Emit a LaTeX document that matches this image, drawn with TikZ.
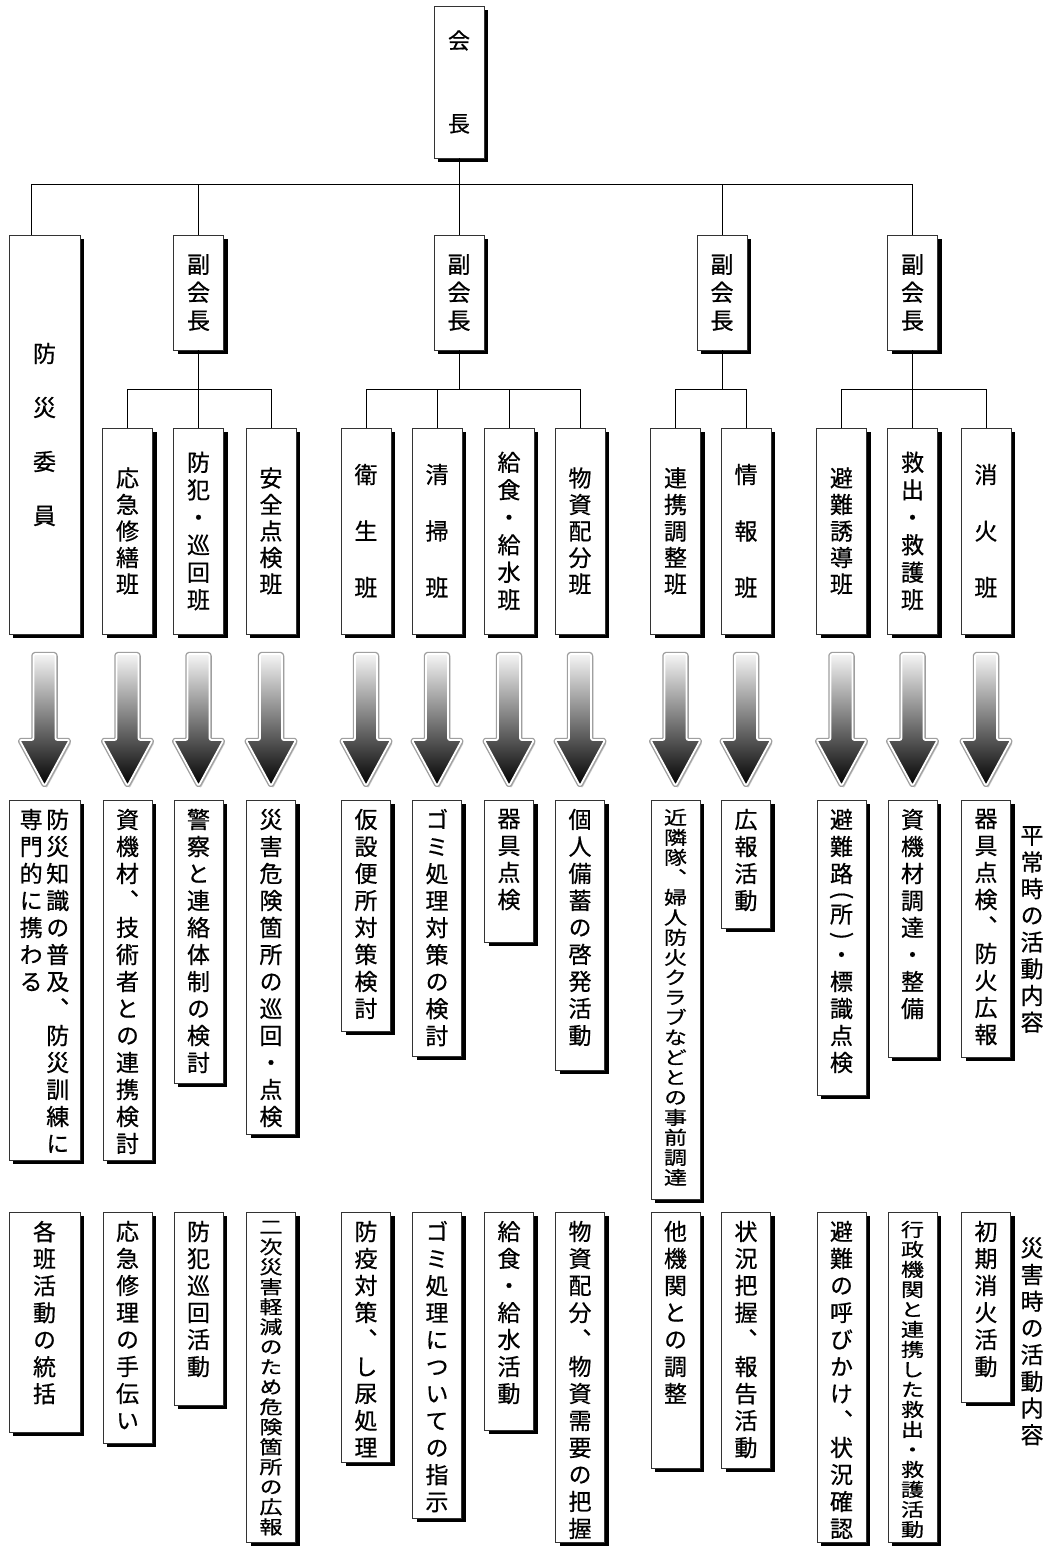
\documentclass[tikz,border=0pt]{standalone}
\usepackage{fontspec}
\newfontfamily\jp{Noto Sans CJK JP}[RawFeature=+vert,FakeBold=0.6]
\newfontfamily\jpflat{Noto Sans CJK JP}[RawFeature=+vert,FakeStretch=1.25,FakeBold=0.6]
\usetikzlibrary{shadows}

% one character per line (vertical writing)
\ExplSyntaxOn
\NewDocumentCommand{\tate}{m}
 {
  \seq_clear:N \l_tmpa_seq
  \tl_map_inline:nn {#1} { \seq_put_right:Nn \l_tmpa_seq {##1} }
  \seq_use:Nn \l_tmpa_seq { \\ }
 }
\ExplSyntaxOff
% top aligned text in a box of height #2
\newcommand{\katsu}[3][40pt]{\parbox[c][\dimexpr#2pt-17pt\relax][t]{#1}{\centering#3}}

\tikzset{
  pics/bigarrow/.style={code={
    \fill[gray!40, shift={(2,2.5)}, rounded corners=2pt] (-11,88) -- (-11,2) -- (11,2) -- (11,88) -- (25,88) -- (0,134) -- (-25,88) -- cycle;
    \draw[gray!75, fill=gray!75, line width=4.5pt, line join=round, rounded corners=2pt] (-11,88) -- (-11,2) -- (11,2) -- (11,88) -- (25,88) -- (0,134) -- (-25,88) -- cycle;
    \draw[white, line width=1.8pt, line join=round, rounded corners=2pt, top color=gray!8, middle color=black!52, bottom color=black] (-11,88) -- (-11,2) -- (11,2) -- (11,88) -- (25,88) -- (0,134) -- (-25,88) -- cycle;
  }}
}

\begin{document}
\begin{tikzpicture}[x=1pt, y=-1pt,
  box/.style={draw=black!80, line width=0.8pt, fill=white, inner sep=0pt,
    minimum width=50pt, align=center,
    drop shadow={shadow xshift=4pt, shadow yshift=-4pt, opacity=1, fill=black}},
  yaku/.style={box, minimum height=115pt, font=\jp\fontsize{23}{28}\selectfont},
  han/.style={box, minimum height=206pt},
  sp3/.style={font=\jp\fontsize{23}{56.5}\selectfont},
  sp5/.style={font=\jp\fontsize{23}{26.5}\selectfont},
  sp6/.style={font=\jp\fontsize{23}{27.5}\selectfont},
  katsu/.style={box, minimum width=49pt, inner ysep=8.5pt, anchor=north,
    font=\jp\fontsize{23}{27}\selectfont},
  komoji/.style={font=\jpflat\fontsize{18.5}{20}\selectfont},
  midashi/.style={inner sep=0pt, anchor=north, align=center,
    font=\jp\fontsize{23}{26.7}\selectfont},
  sen/.style={line width=0.8pt}
]
\path[use as bounding box, fill=white] (0,0) rectangle (1050,1546);

\coordinate (bus) at (0,184);
\coordinate (sub) at (0,389);
\coordinate (ya) at (0,652);
\coordinate (row1) at (0,800);
\coordinate (row2) at (0,1212);

% -- head
\node[box, minimum height=152pt, font=\jp\fontsize{22}{83}\selectfont] (kaicho) at (459,82) {\tate{会長}};

% -- second level
\node[box, minimum width=71pt, minimum height=399pt, font=\jp\fontsize{23}{54}\selectfont] (bosai) at (44.5,434.5) {\tate{防災委員}};
\node[yaku] (fuku1) at (198.5,292.5) {\tate{副会長}};
\node[yaku] (fuku2) at (459,292.5) {\tate{副会長}};
\node[yaku] (fuku3) at (722,292.5) {\tate{副会長}};
\node[yaku] (fuku4) at (912.5,292.5) {\tate{副会長}};

% -- teams
\node[han, sp5] (oukyu) at (127.5,531) {\tate{応急修繕班}};
\node[han, sp6] (bohan) at (198.5,531) {\tate{防犯・巡回班}};
\node[han, sp5] (anzen) at (271,531) {\tate{安全点検班}};
\node[han, sp3] (eisei) at (366,531) {\tate{衛生班}};
\node[han, sp3] (seiso) at (437,531) {\tate{清掃班}};
\node[han, sp6] (kyushoku) at (509,531) {\tate{給食・給水班}};
\node[han, sp5] (busshi) at (580,531) {\tate{物資配分班}};
\node[han, sp5] (renkei) at (675.5,531) {\tate{連携調整班}};
\node[han, sp3] (joho) at (746,531) {\tate{情報班}};
\node[han, sp5] (hinan) at (841.5,531) {\tate{避難誘導班}};
\node[han, sp6] (kyushutsu) at (912.5,531) {\tate{救出・救護班}};
\node[han, sp3] (shoka) at (986,531) {\tate{消火班}};

% -- tree lines
\draw[sen] (kaicho) -- (fuku2);
\draw[sen] ([xshift=23pt]bosai.north west) |- (fuku4 |- bus) -- (fuku4);
\draw[sen] (fuku1) -- (fuku1 |- bus);
\draw[sen] (fuku3) -- (fuku3 |- bus);

\draw[sen] (fuku1) -- (bohan);
\draw[sen] (oukyu) |- (anzen |- sub) -- (anzen);
\draw[sen] (fuku2) -- (fuku2 |- sub);
\draw[sen] (eisei) |- (busshi |- sub) -- (busshi);
\draw[sen] (seiso) -- (seiso |- sub);
\draw[sen] (kyushoku) -- (kyushoku |- sub);
\draw[sen] (fuku3) -- (fuku3 |- sub);
\draw[sen] (renkei) |- (joho |- sub) -- (joho);
\draw[sen] (fuku4) -- (kyushutsu);
\draw[sen] (hinan) |- (shoka |- sub) -- (shoka);

% -- arrows
\pic at (bosai |- ya) {bigarrow};
\pic at (oukyu |- ya) {bigarrow};
\pic at (bohan |- ya) {bigarrow};
\pic at (anzen |- ya) {bigarrow};
\pic at (eisei |- ya) {bigarrow};
\pic at (seiso |- ya) {bigarrow};
\pic at (kyushoku |- ya) {bigarrow};
\pic at (busshi |- ya) {bigarrow};
\pic at (renkei |- ya) {bigarrow};
\pic at (joho |- ya) {bigarrow};
\pic at (hinan |- ya) {bigarrow};
\pic at (kyushutsu |- ya) {bigarrow};
\pic at (shoka |- ya) {bigarrow};

% -- normal times
\node[katsu, minimum width=71pt] (bosai1) at (bosai |- row1) {\katsu[53pt]{360}{\parbox[t]{26.5pt}{\centering\tate{専門的に携わる}}\parbox[t]{26.5pt}{\centering\tate{防災知識の普及、防災訓練に}}}};
\node[katsu] (oukyu1) at (oukyu |- row1) {\katsu{360}{\tate{資機材、技術者との連携検討}}};
\node[katsu] (bohan1) at (bohan |- row1) {\katsu{283}{\tate{警察と連絡体制の検討}}};
\node[katsu] (anzen1) at (anzen |- row1) {\katsu{334}{\tate{災害危険箇所の巡回・点検}}};
\node[katsu] (eisei1) at (eisei |- row1) {\katsu{231}{\tate{仮設便所対策検討}}};
\node[katsu] (seiso1) at (seiso |- row1) {\katsu{256}{\tate{ゴミ処理対策の検討}}};
\node[katsu] (kyushoku1) at (kyushoku |- row1) {\katsu{142}{\tate{器具点検}}};
\node[katsu] (busshi1) at (busshi |- row1) {\katsu{270}{\tate{個人備蓄の啓発活動}}};
\node[katsu, komoji] (renkei1) at (renkei |- row1) {\katsu{399}{\tate{近隣隊、婦人防火クラブなどとの事前調達}}};
\node[katsu] (joho1) at (joho |- row1) {\katsu{128}{\tate{広報活動}}};
\node[katsu] (hinan1) at (hinan |- row1) {\katsu{295}{避\\難\\路\\[-6.75pt]\rotatebox[origin=c]{-90}{(}\\[-6.75pt]所\\[-6.75pt]\rotatebox[origin=c]{-90}{)}\\[-6.75pt]・\\標\\識\\点\\検}};
\node[katsu] (kyushutsu1) at (kyushutsu |- row1) {\katsu{257}{\tate{資機材調達・整備}}};
\node[katsu] (shoka1) at (shoka |- row1) {\katsu{257}{\tate{器具点検、防火広報}}};
\node[midashi] (heijo) at (1032,826) {\tate{平常時の活動内容}};

% -- disaster times
\node[katsu, minimum width=71pt] (bosai2) at (bosai |- row2) {\katsu{220}{\tate{各班活動の統括}}};
\node[katsu] (oukyu2) at (oukyu |- row2) {\katsu{231}{\tate{応急修理の手伝い}}};
\node[katsu] (bohan2) at (bohan |- row2) {\katsu{193}{\tate{防犯巡回活動}}};
\node[katsu, komoji] (anzen2) at (anzen |- row2) {\katsu{330}{\tate{二次災害軽減のため危険箇所の広報}}};
\node[katsu] (eisei2) at (eisei |- row2) {\katsu{250}{\tate{防疫対策、し尿処理}}};
\node[katsu] (seiso2) at (seiso |- row2) {\katsu{306}{\tate{ゴミ処理についての指示}}};
\node[katsu] (kyushoku2) at (kyushoku |- row2) {\katsu{218}{\tate{給食・給水活動}}};
\node[katsu] (busshi2) at (busshi |- row2) {\katsu{330}{\tate{物資配分、物資需要の把握}}};
\node[katsu] (renkei2) at (renkei |- row2) {\katsu{256}{\tate{他機関との調整}}};
\node[katsu] (joho2) at (joho |- row2) {\katsu{256}{\tate{状況把握、報告活動}}};
\node[katsu] (hinan2) at (hinan |- row2) {\katsu{330}{\tate{避難の呼びかけ、状況確認}}};
\node[katsu, komoji] (kyushutsu2) at (kyushutsu |- row2) {\katsu{330}{\tate{行政機関と連携した救出・救護活動}}};
\node[katsu] (shoka2) at (shoka |- row2) {\katsu{190}{\tate{初期消火活動}}};
\node[midashi] (saigai) at (1032,1237) {\tate{災害時の活動内容}};
\end{tikzpicture}
\end{document}
